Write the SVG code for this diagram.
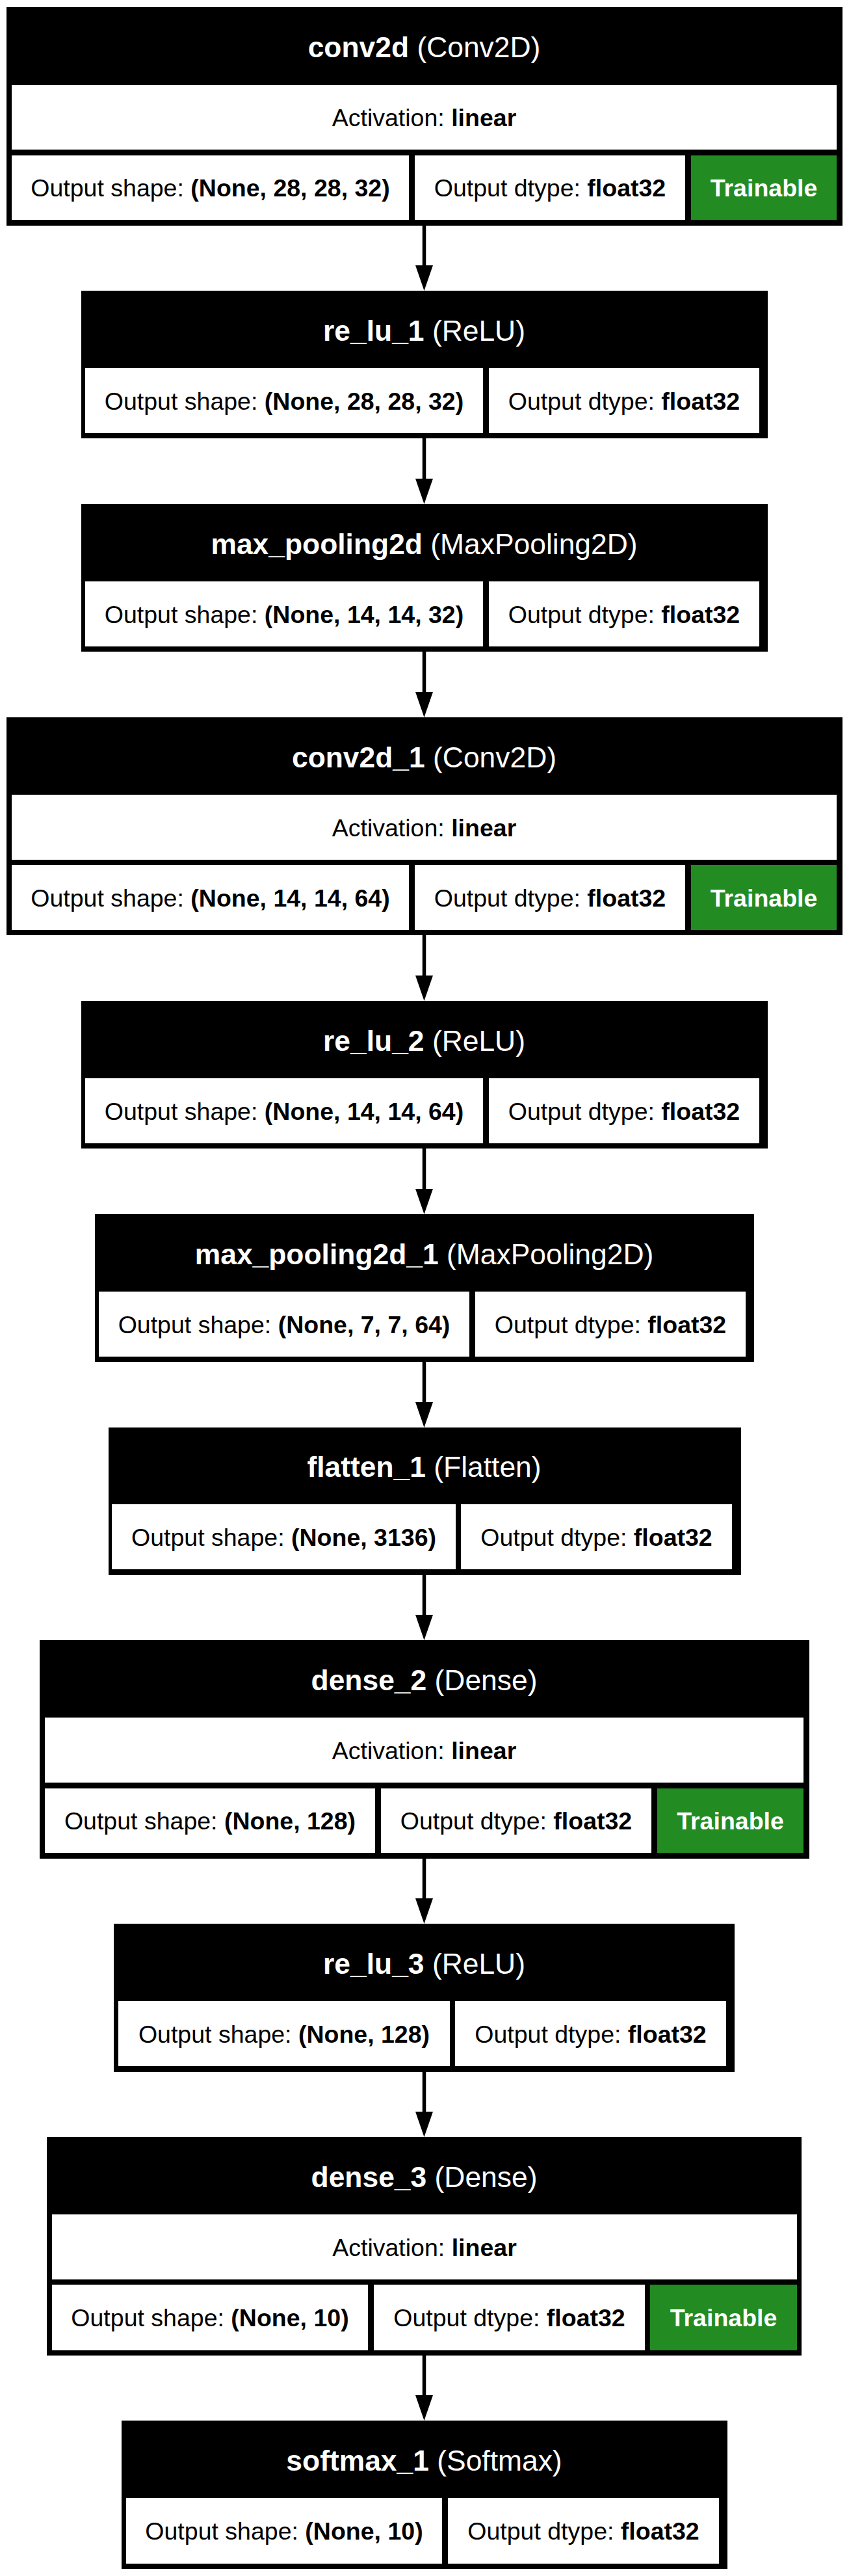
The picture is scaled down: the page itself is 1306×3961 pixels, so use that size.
<svg xmlns="http://www.w3.org/2000/svg" width="1306" height="3961" viewBox="0 0 1306 3961">
<style>
.bg{fill:#ffffff}
.box{fill:#000000}
.cell{fill:#ffffff}
.tr{fill:#228B22}
text{font-family:"Liberation Sans",Arial,Helvetica,sans-serif;text-anchor:middle}
.h{font-size:44.4px;fill:#ffffff}
.t{font-size:37.5px;fill:#000000}
.w{font-size:37.5px;fill:#ffffff;font-weight:bold}
.b{font-weight:bold}
.edge{stroke:#000000;stroke-width:5.5;fill:none}
</style>
<defs>
<marker id="ah" viewBox="0 0 39 27" markerWidth="39" markerHeight="27" refX="0" refY="13.5" orient="auto" markerUnits="userSpaceOnUse">
<polygon points="0,0 39,13.5 0,27" fill="#000000"/>
</marker>
</defs>
<rect class="bg" x="0" y="0" width="1306" height="3961"/>
<g id="connectors">
<line class="edge" x1="652.5" y1="347" x2="652.5" y2="408" marker-end="url(#ah)"/>
<line class="edge" x1="652.5" y1="674" x2="652.5" y2="736" marker-end="url(#ah)"/>
<line class="edge" x1="652.5" y1="1002" x2="652.5" y2="1064" marker-end="url(#ah)"/>
<line class="edge" x1="652.5" y1="1438" x2="652.5" y2="1500" marker-end="url(#ah)"/>
<line class="edge" x1="652.5" y1="1766" x2="652.5" y2="1828" marker-end="url(#ah)"/>
<line class="edge" x1="652.5" y1="2094" x2="652.5" y2="2156" marker-end="url(#ah)"/>
<line class="edge" x1="652.5" y1="2422" x2="652.5" y2="2483" marker-end="url(#ah)"/>
<line class="edge" x1="652.5" y1="2858" x2="652.5" y2="2919" marker-end="url(#ah)"/>
<line class="edge" x1="652.5" y1="3186" x2="652.5" y2="3247" marker-end="url(#ah)"/>
<line class="edge" x1="652.5" y1="3622" x2="652.5" y2="3683" marker-end="url(#ah)"/>
</g>
<g id="conv2d">
<rect class="box" x="10" y="11" width="1286" height="336"/>
<text class="h" x="652.5" y="88"><tspan class="b">conv2d</tspan> (Conv2D)</text>
<rect class="cell" x="18" y="131" width="1269" height="99"/>
<text class="t" x="652.5" y="194">Activation: <tspan class="b">linear</tspan></text>
<rect class="cell" x="18" y="239" width="611" height="99"/>
<text class="t" x="323.5" y="302">Output shape: <tspan class="b">(None, 28, 28, 32)</tspan></text>
<rect class="cell" x="638" y="239" width="416" height="99"/>
<text class="t" x="846" y="302">Output dtype: <tspan class="b">float32</tspan></text>
<rect class="tr" x="1063" y="239" width="224" height="99"/>
<text class="w" x="1175" y="302">Trainable</text>
</g>
<g id="re_lu_1">
<rect class="box" x="125" y="447" width="1056" height="227"/>
<text class="h" x="652.5" y="523.5"><tspan class="b">re_lu_1</tspan> (ReLU)</text>
<rect class="cell" x="131" y="566" width="612" height="100"/>
<text class="t" x="437" y="629.5">Output shape: <tspan class="b">(None, 28, 28, 32)</tspan></text>
<rect class="cell" x="752" y="566" width="416" height="100"/>
<text class="t" x="960" y="629.5">Output dtype: <tspan class="b">float32</tspan></text>
</g>
<g id="max_pooling2d">
<rect class="box" x="125" y="775" width="1056" height="227"/>
<text class="h" x="652.5" y="851.5"><tspan class="b">max_pooling2d</tspan> (MaxPooling2D)</text>
<rect class="cell" x="131" y="894" width="612" height="100"/>
<text class="t" x="437" y="957.5">Output shape: <tspan class="b">(None, 14, 14, 32)</tspan></text>
<rect class="cell" x="752" y="894" width="416" height="100"/>
<text class="t" x="960" y="957.5">Output dtype: <tspan class="b">float32</tspan></text>
</g>
<g id="conv2d_1">
<rect class="box" x="10" y="1103" width="1286" height="335"/>
<text class="h" x="652.5" y="1179.5"><tspan class="b">conv2d_1</tspan> (Conv2D)</text>
<rect class="cell" x="18" y="1222" width="1269" height="100"/>
<text class="t" x="652.5" y="1285.5">Activation: <tspan class="b">linear</tspan></text>
<rect class="cell" x="18" y="1330" width="611" height="100"/>
<text class="t" x="323.5" y="1393.5">Output shape: <tspan class="b">(None, 14, 14, 64)</tspan></text>
<rect class="cell" x="638" y="1330" width="416" height="100"/>
<text class="t" x="846" y="1393.5">Output dtype: <tspan class="b">float32</tspan></text>
<rect class="tr" x="1063" y="1330" width="224" height="100"/>
<text class="w" x="1175" y="1393.5">Trainable</text>
</g>
<g id="re_lu_2">
<rect class="box" x="125" y="1539" width="1056" height="227"/>
<text class="h" x="652.5" y="1615.5"><tspan class="b">re_lu_2</tspan> (ReLU)</text>
<rect class="cell" x="131" y="1658" width="612" height="100"/>
<text class="t" x="437" y="1721.5">Output shape: <tspan class="b">(None, 14, 14, 64)</tspan></text>
<rect class="cell" x="752" y="1658" width="416" height="100"/>
<text class="t" x="960" y="1721.5">Output dtype: <tspan class="b">float32</tspan></text>
</g>
<g id="max_pooling2d_1">
<rect class="box" x="146" y="1867" width="1014" height="227"/>
<text class="h" x="652.5" y="1943.5"><tspan class="b">max_pooling2d_1</tspan> (MaxPooling2D)</text>
<rect class="cell" x="152" y="1986" width="570" height="100"/>
<text class="t" x="437" y="2049.5">Output shape: <tspan class="b">(None, 7, 7, 64)</tspan></text>
<rect class="cell" x="731" y="1986" width="416" height="100"/>
<text class="t" x="939" y="2049.5">Output dtype: <tspan class="b">float32</tspan></text>
</g>
<g id="flatten_1">
<rect class="box" x="167" y="2195" width="973" height="227"/>
<text class="h" x="652.5" y="2271"><tspan class="b">flatten_1</tspan> (Flatten)</text>
<rect class="cell" x="172" y="2313" width="529" height="100"/>
<text class="t" x="436.5" y="2376.5">Output shape: <tspan class="b">(None, 3136)</tspan></text>
<rect class="cell" x="709" y="2313" width="417" height="100"/>
<text class="t" x="917.5" y="2376.5">Output dtype: <tspan class="b">float32</tspan></text>
</g>
<g id="dense_2">
<rect class="box" x="61" y="2522" width="1184" height="336"/>
<text class="h" x="652.5" y="2598.5"><tspan class="b">dense_2</tspan> (Dense)</text>
<rect class="cell" x="69" y="2641" width="1167" height="100"/>
<text class="t" x="652.5" y="2704.5">Activation: <tspan class="b">linear</tspan></text>
<rect class="cell" x="69" y="2750" width="508" height="99"/>
<text class="t" x="323" y="2813">Output shape: <tspan class="b">(None, 128)</tspan></text>
<rect class="cell" x="586" y="2750" width="416" height="99"/>
<text class="t" x="794" y="2813">Output dtype: <tspan class="b">float32</tspan></text>
<rect class="tr" x="1011" y="2750" width="225" height="99"/>
<text class="w" x="1123.5" y="2813">Trainable</text>
</g>
<g id="re_lu_3">
<rect class="box" x="175" y="2958" width="955" height="228"/>
<text class="h" x="652.5" y="3034.5"><tspan class="b">re_lu_3</tspan> (ReLU)</text>
<rect class="cell" x="182" y="3077" width="510" height="100"/>
<text class="t" x="437" y="3140.5">Output shape: <tspan class="b">(None, 128)</tspan></text>
<rect class="cell" x="700" y="3077" width="417" height="100"/>
<text class="t" x="908.5" y="3140.5">Output dtype: <tspan class="b">float32</tspan></text>
</g>
<g id="dense_3">
<rect class="box" x="72" y="3286" width="1161" height="336"/>
<text class="h" x="652.5" y="3362.5"><tspan class="b">dense_3</tspan> (Dense)</text>
<rect class="cell" x="80" y="3405" width="1146" height="100"/>
<text class="t" x="653" y="3468.5">Activation: <tspan class="b">linear</tspan></text>
<rect class="cell" x="80" y="3513" width="486" height="101"/>
<text class="t" x="323" y="3577">Output shape: <tspan class="b">(None, 10)</tspan></text>
<rect class="cell" x="575" y="3513" width="417" height="101"/>
<text class="t" x="783.5" y="3577">Output dtype: <tspan class="b">float32</tspan></text>
<rect class="tr" x="1000" y="3513" width="226" height="101"/>
<text class="w" x="1113" y="3577">Trainable</text>
</g>
<g id="softmax_1">
<rect class="box" x="187" y="3722" width="932" height="228"/>
<text class="h" x="652.5" y="3798.5"><tspan class="b">softmax_1</tspan> (Softmax)</text>
<rect class="cell" x="194" y="3841" width="486" height="101"/>
<text class="t" x="437" y="3905">Output shape: <tspan class="b">(None, 10)</tspan></text>
<rect class="cell" x="689" y="3841" width="417" height="101"/>
<text class="t" x="897.5" y="3905">Output dtype: <tspan class="b">float32</tspan></text>
</g>
</svg>
